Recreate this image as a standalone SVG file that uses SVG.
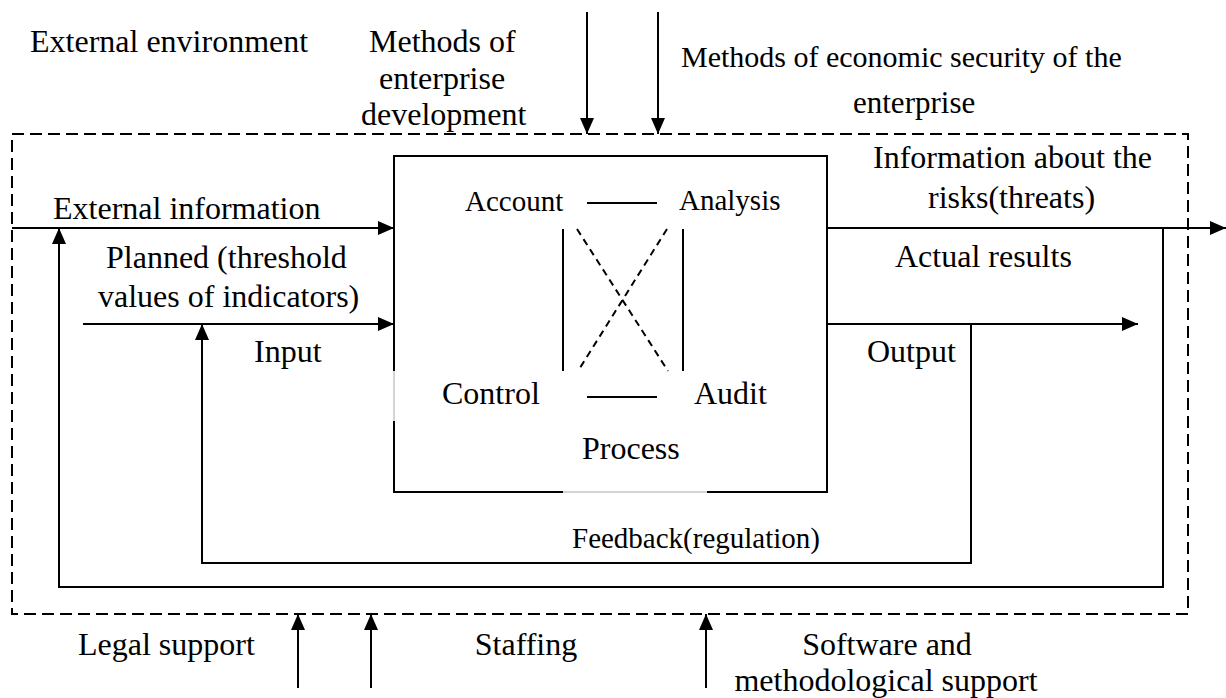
<svg xmlns="http://www.w3.org/2000/svg" width="1226" height="698" viewBox="0 0 1226 698">
<style>
text{font-family:"Liberation Serif","Times New Roman",serif;font-size:32px;fill:#000}
.sm{font-size:29px}
.mid{text-anchor:middle}
.ln{stroke:#000;stroke-width:2;fill:none}
.ds{stroke:#000;stroke-width:2;fill:none;stroke-dasharray:12 6}
.gap{stroke:#aaa;stroke-width:1;fill:none}
</style>
<defs>
<marker id="ah" viewBox="0 0 16 14" refX="16" refY="7" markerWidth="16" markerHeight="14" markerUnits="userSpaceOnUse" orient="auto"><path d="M0,0 L16,7 L0,14 z" fill="#000"/></marker>
</defs>
<rect width="1226" height="698" fill="#fff"/>
<g id="environment">
<rect x="12" y="134" width="1176" height="480" class="ds"/>
<text x="30" y="52">External environment</text>
</g>
<g id="process">
<path class="ln" d="M394,371 V156 H827 V492 H707 M563,492 H394 V421"/>
<path class="gap" d="M394,371 V421 M563,492 H707"/>
<text x="582" y="459">Process</text>
</g>
<g id="account"><text class="sm" x="465" y="211">Account</text></g>
<g id="analysis"><text class="sm" x="679" y="210">Analysis</text></g>
<g id="control"><text x="442" y="404">Control</text></g>
<g id="audit"><text x="694" y="404">Audit</text></g>
<g id="labels">
<text x="369" y="52">Methods of</text>
<text x="379" y="89">enterprise</text>
<text x="361" y="125">development</text>
<text x="681" y="67" style="font-size:30px">Methods of economic security of the</text>
<text x="853" y="113" style="font-size:31px">enterprise</text>
<text x="873" y="168">Information about the</text>
<text x="928" y="208">risks(threats)</text>
<text x="895" y="267">Actual results</text>
<text x="867" y="362">Output</text>
<text x="53" y="219">External information</text>
<text x="106" y="268">Planned (threshold</text>
<text x="98" y="307">values of indicators)</text>
<text x="254" y="362">Input</text>
<text x="572" y="548" style="font-size:29px">Feedback(regulation)</text>
<text x="78" y="655">Legal support</text>
<text class="mid" x="526" y="655">Staffing</text>
<text class="mid" x="887" y="655">Software and</text>
<text class="mid" x="886" y="691">methodological support</text>
</g>
<g id="connectors">
<path class="ln" d="M587,12 V134" marker-end="url(#ah)"/>
<path class="ln" d="M658,12 V134" marker-end="url(#ah)"/>
<path class="ln" d="M12,228 H394" marker-end="url(#ah)"/>
<path class="ln" d="M83,324 H394" marker-end="url(#ah)"/>
<path class="ln" d="M827,228 H1226" marker-end="url(#ah)"/>
<path class="ln" d="M827,324 H1138" marker-end="url(#ah)"/>
<path class="ln" d="M971,324 V563 H202 V324" marker-end="url(#ah)"/>
<path class="ln" d="M1163,228 V587 H59 V228" marker-end="url(#ah)"/>
<path class="ln" d="M587,203 H657 M587,397 H657 M563,229 V371 M683,229 V371"/>
<path class="ln" d="M577,229 L668,371 M667,229 L578,371" stroke-dasharray="7 5"/>
<path class="ln" d="M298,688 V614" marker-end="url(#ah)"/>
<path class="ln" d="M371,688 V614" marker-end="url(#ah)"/>
<path class="ln" d="M706,688 V614" marker-end="url(#ah)"/>
</g>
</svg>
